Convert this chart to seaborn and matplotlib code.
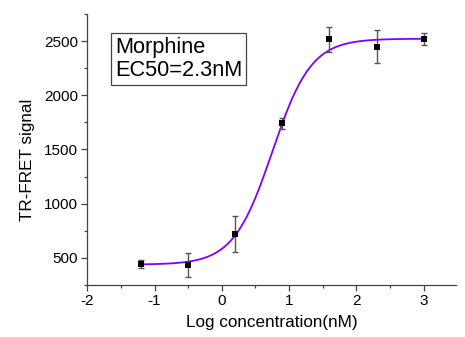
import numpy as np
import pandas as pd
import matplotlib
matplotlib.use("Agg")
import matplotlib.pyplot as plt
import seaborn as sns
from matplotlib.ticker import MultipleLocator

# Data
log_conc = [-1.2, -0.5, 0.2, 0.9, 1.6, 2.3, 3.0]
signal = [445, 433, 718, 1742, 2515, 2448, 2518]
error = [35, 113, 166, 53, 117, 150, 52]

# Fitted four-parameter logistic curve (parameters read from the drawn fit)
fit_bottom = 438
fit_top = 2522
fit_logec50 = 0.75
fit_hill = 1.5

label_lines = ["Morphine", "EC50=2.3nM"]
xlabel = "Log concentration(nM)"
ylabel = "TR-FRET signal"

sns.set_theme(style="ticks")
plt.rcParams['font.family'] = ['Liberation Sans', 'DejaVu Sans']
plt.rcParams['axes.unicode_minus'] = False

fig = plt.figure(figsize=(4.65, 3.37), dpi=100)
ax = fig.add_axes([0.1877, 0.1543, 0.7929, 0.8042])

xs = np.linspace(min(log_conc), max(log_conc), 300)
ys = fit_bottom + (fit_top - fit_bottom) / (1 + 10 ** ((fit_logec50 - xs) * fit_hill))
curve = pd.DataFrame({"x": xs, "y": ys})
pts = pd.DataFrame({"x": log_conc, "y": signal, "err": error})

sns.lineplot(data=curve, x="x", y="y", color="#8000ff", lw=1.3, ax=ax, zorder=2)
ax.errorbar(pts["x"], pts["y"], yerr=pts["err"], fmt="none", ecolor="#555555",
            elinewidth=1.0, capsize=2.5, capthick=1.0, zorder=3)
sns.scatterplot(data=pts, x="x", y="y", marker="s", s=22, color="black",
                edgecolor="black", linewidth=0, ax=ax, zorder=4)

ax.set_xlim(-2, 3.48)
ax.set_ylim(250, 2750)
ax.xaxis.set_major_locator(MultipleLocator(1))
ax.xaxis.set_minor_locator(MultipleLocator(0.5))
ax.yaxis.set_major_locator(MultipleLocator(500))
ax.yaxis.set_minor_locator(MultipleLocator(250))
ax.set_yticks([500, 1000, 1500, 2000, 2500])

for s in ["top", "right"]:
    ax.spines[s].set_visible(False)
for s in ["left", "bottom"]:
    ax.spines[s].set_color("#444444")
    ax.spines[s].set_linewidth(0.9)

ax.tick_params(which="major", length=4, width=0.9, color="#444444",
               labelsize=11, labelcolor="black", pad=2.5)
ax.tick_params(which="minor", length=2.2, width=0.9, color="#444444")

ax.set_xlabel(xlabel, fontsize=12.3, color="black", labelpad=5)
ax.set_ylabel(ylabel, fontsize=12.3, color="black", labelpad=6)
ax.yaxis.set_label_coords(-0.142, 0.462)

ax.text(0.075, 0.915, "\n".join(label_lines), transform=ax.transAxes,
        ha="left", va="top", fontsize=15.7, color="black", linespacing=1.15,
        bbox=dict(boxstyle="square,pad=0.18", facecolor="white",
                  edgecolor="#444444", linewidth=0.9))

fig.savefig("out.png", dpi=100)
